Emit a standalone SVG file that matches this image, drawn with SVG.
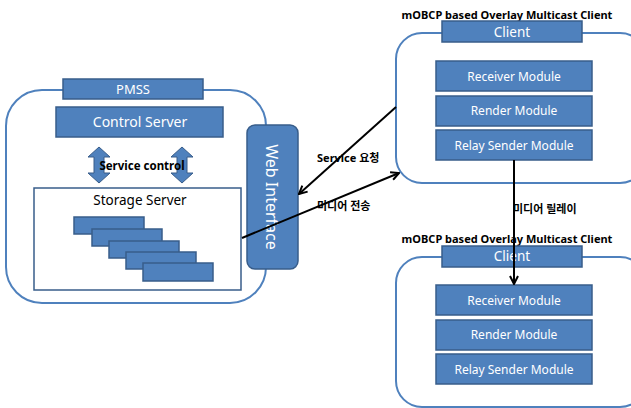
<svg xmlns="http://www.w3.org/2000/svg" width="631" height="408" viewBox="0 0 631 408">
<style>
.frame{fill:#fff;stroke:#4F81BD;stroke-width:2}
.box{fill:#4F81BD;stroke:#385D8A;stroke-width:1.5}
.wt{fill:#fff;font-family:"Noto Sans","Noto Sans CJK KR",sans-serif;font-size:12px;text-anchor:middle}
.bt{fill:#000;font-family:"Noto Sans","Noto Sans CJK KR",sans-serif;font-size:11px;font-weight:bold}
.line{stroke:#000;stroke-width:2;fill:none}
</style>
<defs>
<marker id="ah" viewBox="0 0 10 10" refX="9" refY="5" markerWidth="5" markerHeight="5" orient="auto" markerUnits="strokeWidth">
<polyline points="1,1 9,5 1,9" fill="none" stroke="#000" stroke-width="2"/>
</marker>
<path id="dbl" d="M0,-18 L11,-8 L5,-8 L5,8 L11,8 L0,18 L-11,8 L-5,8 L-5,-8 L-11,-8 Z" fill="#4F81BD" stroke="#385D8A" stroke-width="1"/>
</defs>

<g id="pmss">
<rect class="frame" x="6" y="90" width="260" height="213" rx="36"/>
<rect class="box" x="63" y="79" width="140" height="20"/>
<text class="wt" x="133" y="94" style="font-size:13px">PMSS</text>
</g>
<g id="control-server">
<rect class="box" x="56" y="107" width="167" height="30"/>
<text class="wt" x="140" y="127" style="font-size:14px">Control Server</text>
</g>
<g id="service-control">
<use href="#dbl" x="99" y="165"/>
<use href="#dbl" x="182" y="165"/>
<text class="bt" x="142" y="170" text-anchor="middle" style="font-size:11.5px">Service control</text>
</g>
<g id="storage-server">
<rect x="34" y="188" width="207" height="102" fill="#fff" stroke="#385D8A" stroke-width="1.5"/>
<text x="140" y="205" style="font-family:'Noto Sans',sans-serif;font-size:13.5px" text-anchor="middle" fill="#000">Storage Server</text>
<rect class="box" x="74" y="217" width="70" height="17"/>
<rect class="box" x="92" y="229" width="70" height="17"/>
<rect class="box" x="109" y="241" width="70" height="17"/>
<rect class="box" x="126" y="252" width="70" height="17"/>
<rect class="box" x="143" y="263" width="70" height="18"/>
</g>
<g id="web-interface">
<rect class="box" x="247" y="125" width="51" height="144" rx="8"/>
<text class="wt" transform="translate(266,197) rotate(90)" style="font-size:16px">Web Interface</text>
</g>

<g id="client1">
<text class="bt" x="507" y="19" text-anchor="middle">mOBCP based Overlay Multicast Client</text>
<rect class="frame" x="396" y="33" width="250" height="150" rx="26"/>
<rect class="box" x="442" y="21" width="140" height="21"/>
<text class="wt" x="512" y="37" style="font-size:13.5px">Client</text>
<rect class="box" x="436" y="61" width="156" height="30"/>
<text class="wt" x="514" y="81">Receiver Module</text>
<rect class="box" x="436" y="96" width="156" height="30"/>
<text class="wt" x="514" y="115">Render Module</text>
<rect class="box" x="436" y="130" width="156" height="30"/>
<text class="wt" x="514" y="150">Relay Sender Module</text>
</g>

<g id="client2">
<text class="bt" x="507" y="243" text-anchor="middle">mOBCP based Overlay Multicast Client</text>
<rect class="frame" x="396" y="257" width="250" height="150" rx="26"/>
<rect class="box" x="442" y="246" width="140" height="21"/>
<text class="wt" x="512" y="261" style="font-size:13.5px">Client</text>
<rect class="box" x="436" y="285" width="156" height="30"/>
<text class="wt" x="514" y="305">Receiver Module</text>
<rect class="box" x="436" y="320" width="156" height="30"/>
<text class="wt" x="514" y="339">Render Module</text>
<rect class="box" x="436" y="354" width="156" height="30"/>
<text class="wt" x="514" y="374">Relay Sender Module</text>
</g>

<g id="connectors">
<line class="line" x1="396" y1="107" x2="299" y2="194" marker-end="url(#ah)"/>
<line class="line" x1="242" y1="238" x2="399" y2="173" marker-end="url(#ah)"/>
<line class="line" x1="514" y1="160" x2="514" y2="284" marker-end="url(#ah)"/>
<text class="bt" x="317" y="162">Service 요청</text>
<text class="bt" x="317" y="210">미디어 전송</text>
<text class="bt" x="513" y="213">미디어 릴레이</text>
</g>
</svg>
